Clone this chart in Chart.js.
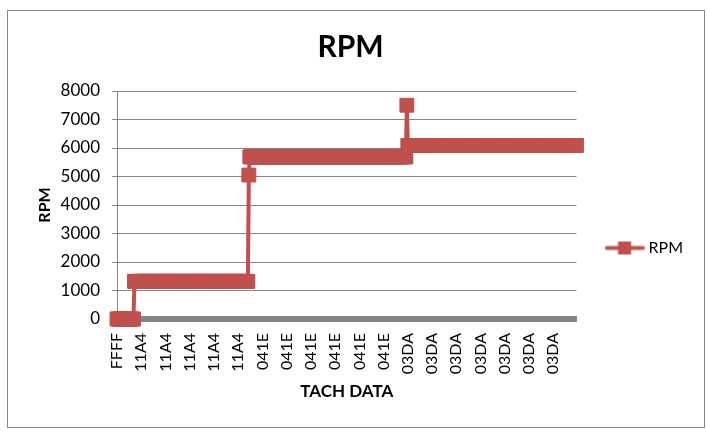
<!DOCTYPE html>
<html>
<head>
<meta charset="utf-8">
<script src="https://cdn.jsdelivr.net/npm/chart.js@4/dist/chart.umd.min.js"></script>
<style>
  body { margin: 0; background: #fff; }
  #frame { position: absolute; left: 7px; top: 10px; width: 696px; height: 416px; border: 1px solid #868686; background: #fff; }
  canvas { display: block; }
</style>
</head>
<body>
<div id="frame"><canvas id="rpm" width="696" height="416"></canvas></div>
<script>
// tach readings, kept as runs of equal readings (hex code, rpm, how many samples)
const runCodes = ["FFFF", "11A4", "04A4", "041E", "0320", "03DA"];
const runRpm = [0, 1320, 5050, 5690, 7500, 6090];
const runCounts = [18, 118, 1, 162, 1, 175];
const labelStep = 25;
const yTicks = [0, 1000, 2000, 3000, 4000, 5000, 6000, 7000, 8000];

var labels = [];
var numbers = [];
runCodes.forEach((code, i) => {
    for (let k = 0; k < runCounts[i]; k++) {
        labels.push(code);
        numbers.push(runRpm[i]);
    }
});

const red = "#C0504D";
const grey = "#868686";

// little line+square picture for the legend entry
const legendIcon = document.createElement("canvas");
legendIcon.width = 40;
legendIcon.height = 15;
(function () {
    const c = legendIcon.getContext("2d");
    c.strokeStyle = red;
    c.lineWidth = 4;
    c.lineCap = "round";
    c.beginPath();
    c.moveTo(2, 7.5);
    c.lineTo(38, 7.5);
    c.stroke();
    c.fillStyle = red;
    c.fillRect(13.5, 1, 13, 13);
})();

function draw() {
    Chart.defaults.font.family = "Lato";
    Chart.defaults.color = "#000";

    // legend sits right of the plot: keep plot right edge at 569
    const m = document.createElement("canvas").getContext("2d");
    m.font = "16px Lato";
    const legendW = 32 + 32 + 8 + 8 + Math.ceil(m.measureText("RPM").width) + 1;
    const padRight = 696 - 569 - legendW;

    new Chart(document.getElementById("rpm"), {
        type: "line",
        data: {
            labels: labels,
            datasets: [
                {
                    label: "RPM",
                    data: numbers,
                    borderColor: red,
                    backgroundColor: red,
                    borderWidth: 4,
                    tension: 0,
                    pointStyle: "rect",
                    pointRadius: 9.8,
                    pointBorderWidth: 1,
                    pointBackgroundColor: red,
                    pointBorderColor: red,
                    clip: false,
                },
            ],
        },
        options: {
            responsive: false,
            animation: false,
            layout: { padding: { top: 8, right: padRight, bottom: 0, left: 0 } },
            plugins: {
                title: {
                    display: true,
                    text: "RPM",
                    font: { size: 30, weight: "bold" },
                    padding: { top: 10, bottom: 26 },
                },
                legend: {
                    position: "right",
                    title: { display: true, text: " ", font: { size: 10 }, padding: { top: 38, bottom: 0 } },
                    labels: {
                        usePointStyle: true,
                        pointStyle: legendIcon,
                        pointStyleWidth: 32,
                        padding: 32,
                        font: { size: 16 },
                    },
                },
                tooltip: { enabled: false },
            },
            scales: {
                x: {
                    offset: false,
                    grid: { display: false, drawTicks: false },
                    border: { display: true, color: grey, width: 6 },
                    ticks: {
                        autoSkip: false,
                        minRotation: 90,
                        maxRotation: 90,
                        padding: 14,
                        font: { size: 16 },
                        callback: function (value, index) {
                            return index % labelStep === 0 ? labels[index] : "";
                        },
                    },
                    title: {
                        display: true,
                        text: "TACH DATA",
                        font: { size: 17, weight: "bold" },
                        padding: { top: 0, bottom: 25 },
                    },
                    afterFit: function (scale) {
                        scale.height = 108;
                    },
                },
                y: {
                    min: yTicks[0],
                    max: yTicks[yTicks.length - 1],
                    afterBuildTicks: function (scale) {
                        scale.ticks = yTicks.map((v) => ({ value: v }));
                    },
                    grid: { color: grey, lineWidth: 1, tickLength: 5 },
                    border: { display: true, color: grey, width: 1 },
                    ticks: {
                        padding: 12,
                        font: { size: 17 },
                        callback: function (value) {
                            return String(value);
                        },
                    },
                    title: {
                        display: true,
                        text: "RPM",
                        font: { size: 16, weight: "bold" },
                        padding: { top: 27, bottom: 0 },
                    },
                    afterFit: function (scale) {
                        scale.width = 109;
                    },
                },
            },
        },
    });
}

document.fonts.load("16px Lato").then(draw, draw);
</script>
</body>
</html>
